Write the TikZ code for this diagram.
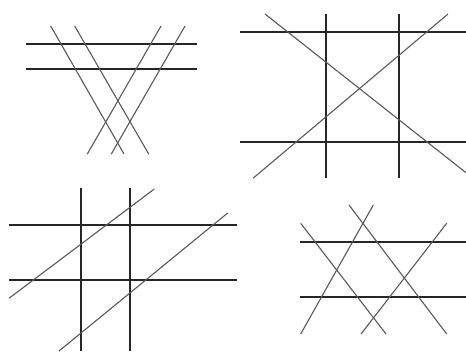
\documentclass[tikz,border=0pt]{standalone}
\begin{document}
\begin{tikzpicture}[x=1pt,y=-1pt,
  straight/.style={line width=1.5pt,draw=black!85},
  slant/.style={line width=1.1pt,draw=black!65}]
\useasboundingbox[fill=white] (0,0) rectangle (466,351);
% ---- top-left
\coordinate (a1) at (26,44); \coordinate (a2) at (197,44);
\coordinate (a3) at (26,69); \coordinate (a4) at (197,69);
\coordinate (a5) at (50.7,26); \coordinate (a6) at (124,154);
\coordinate (a7) at (74.7,26); \coordinate (a8) at (148.7,154);
\coordinate (a9) at (161,26); \coordinate (a10) at (87.3,154);
\coordinate (a11) at (185,26); \coordinate (a12) at (111.3,154);
\draw[straight] (a1) -- (a2); \draw[straight] (a3) -- (a4);
\draw[slant] (a5) -- (a6); \draw[slant] (a7) -- (a8);
\draw[slant] (a9) -- (a10); \draw[slant] (a11) -- (a12);
% ---- top-right
\coordinate (b1) at (240.3,32); \coordinate (b2) at (466,32);
\coordinate (b3) at (240.3,142); \coordinate (b4) at (466,142);
\coordinate (b5) at (326,14); \coordinate (b6) at (326,178.3);
\coordinate (b7) at (399,14); \coordinate (b8) at (399,178.3);
\coordinate (b9) at (265,14); \coordinate (b10) at (466,172.7);
\coordinate (b11) at (448,14); \coordinate (b12) at (253,178.3);
\draw[straight] (b1) -- (b2); \draw[straight] (b3) -- (b4);
\draw[straight] (b5) -- (b6); \draw[straight] (b7) -- (b8);
\draw[slant] (b9) -- (b10); \draw[slant] (b11) -- (b12);
% ---- bottom-left
\coordinate (c1) at (9,225); \coordinate (c2) at (237.3,225);
\coordinate (c3) at (9,280); \coordinate (c4) at (237.3,280);
\coordinate (c5) at (81,188.3); \coordinate (c6) at (81,351);
\coordinate (c7) at (130,188.3); \coordinate (c8) at (130,351);
\coordinate (c9) at (9,298.3); \coordinate (c10) at (154.3,189);
\coordinate (c11) at (227.7,213); \coordinate (c12) at (59,351);
\draw[straight] (c1) -- (c2); \draw[straight] (c3) -- (c4);
\draw[straight] (c5) -- (c6); \draw[straight] (c7) -- (c8);
\draw[slant] (c9) -- (c10); \draw[slant] (c11) -- (c12);
% ---- bottom-right
\coordinate (d1) at (300,242); \coordinate (d2) at (466,242);
\coordinate (d3) at (300,297); \coordinate (d4) at (466,297);
\coordinate (d5) at (300.7,223.3); \coordinate (d6) at (386,334);
\coordinate (d7) at (349,205); \coordinate (d8) at (446.7,334);
\coordinate (d9) at (373.3,205); \coordinate (d10) at (300.7,334);
\coordinate (d11) at (446.7,223.3); \coordinate (d12) at (361,334);
\draw[straight] (d1) -- (d2); \draw[straight] (d3) -- (d4);
\draw[slant] (d5) -- (d6); \draw[slant] (d7) -- (d8);
\draw[slant] (d9) -- (d10); \draw[slant] (d11) -- (d12);
\end{tikzpicture}
\end{document}
